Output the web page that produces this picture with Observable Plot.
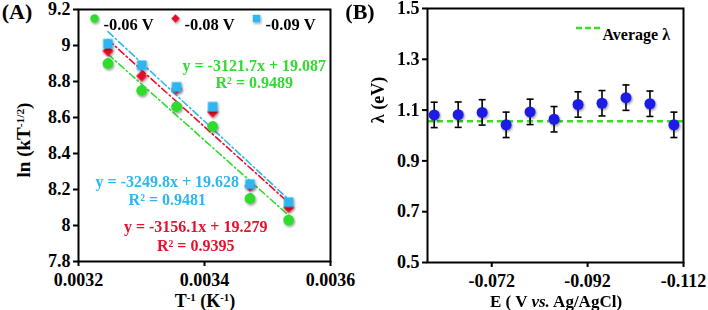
<!DOCTYPE html>
<html><head><meta charset="utf-8">
<script src="https://cdn.jsdelivr.net/npm/d3@7"></script>
<script src="https://cdn.jsdelivr.net/npm/@observablehq/plot@0.6"></script>
<style>
body{margin:0;background:#fff;}
#wrap{display:flex;width:708px;height:310px;overflow:hidden;background:#fff;}
svg{overflow:visible;}
</style></head><body><div id="wrap"></div>
<script>
// ---- Panel A data ----
const invT = [1/308, 1/303, 1/298, 1/293, 1/288, 1/283];
const seriesNames = ["-0.06 V", "-0.08 V", "-0.09 V"];
const lnGreen = [8.90, 8.75, 8.66, 8.55, 8.15, 8.03];
const lnRed   = [8.97, 8.83, 8.76, 8.63, 8.22, 8.10];
const lnBlue  = [9.01, 8.89, 8.77, 8.66, 8.23, 8.13];
const fitSlopes = [-3121.7, -3156.1, -3249.8];
const fitIntercepts = [19.087, 19.279, 19.628];
const fitR2 = [0.9489, 0.9395, 0.9481];
const xTicksA = [0.0032, 0.0034, 0.0036];
const yTicksA = [7.8, 8, 8.2, 8.4, 8.6, 8.8, 9, 9.2];
// equation label anchors (data units)
const eqX = [0.003479, 0.003386, 0.003341];
const eqY = [8.889, 7.994, 8.244];
const r2Y = [8.794, 7.889, 8.144];

// ---- Panel B data ----
const E = [-0.060, -0.065, -0.070, -0.075, -0.080, -0.085, -0.090, -0.095, -0.100, -0.105, -0.110];
const lambda = [1.081, 1.082, 1.091, 1.042, 1.093, 1.064, 1.122, 1.127, 1.149, 1.125, 1.042];
const lambdaErr = [0.05, 0.05, 0.05, 0.05, 0.05, 0.05, 0.05, 0.05, 0.05, 0.05, 0.05];
const avgLambda = 1.056;
const xTicksB = [-0.072, -0.092, -0.112];
const yTicksB = [0.5, 0.7, 0.9, 1.1, 1.3, 1.5];

const colorsA = ["#2fdc2f", "#e8102c", "#2fb6f0"];
const symbolsA = ["circle", "diamond2", "square"];
const seriesA = [lnGreen, lnRed, lnBlue];
const FONT = "'Liberation Serif','Times New Roman',serif";

const ptsA = seriesA.flatMap((vals, i) => vals.map((v, j) => ({x: invT[j], y: v, s: i})));
const fitLines = fitSlopes.flatMap((m, i) => [invT[0], invT[invT.length - 1]].map(x => ({x, y: m * x + fitIntercepts[i], s: i})));
const eqs = fitSlopes.map((m, i) => ({
  x: eqX[i], y: eqY[i], y2: r2Y[i], s: i,
  eq: `y = ${m}x + ${fitIntercepts[i]}`, r2: `R² = ${fitR2[i]}`
}));

const baseStyle = {fontFamily: FONT, fontWeight: "bold", fontSize: "18px", color: "black", background: "transparent"};

const plotA = Plot.plot({
  width: 340, height: 310, marginLeft: 78, marginRight: 10, marginTop: 9, marginBottom: 49,
  style: baseStyle,
  x: {domain: [0.0032, 0.0036]},
  y: {domain: [7.8, 9.2]},
  marks: [
    Plot.axisX({ticks: xTicksA, tickSize: 5, tickPadding: 7, tickFormat: d => d.toFixed(4), label: null, strokeWidth: 2}),
    Plot.axisY({ticks: yTicksA, tickSize: 5, tickPadding: 3, tickFormat: d => String(+d.toFixed(1)), label: null, strokeWidth: 2}),
    ...[0, 1, 2].map(i => Plot.line(fitLines.filter(d => d.s === i), {
      x: "x", y: "y", stroke: colorsA[i], strokeWidth: 1.6, strokeDasharray: "7,3,1.5,3"
    })),
    ...[0, 1, 2].map(i => Plot.dot(ptsA.filter(d => d.s === i), {
      x: "x", y: "y", symbol: symbolsA[i], fill: colorsA[i], r: i === 1 ? 5 : 5.4
    })),
    Plot.text(eqs, {x: "x", y: "y", text: "eq", fill: d => colorsA[d.s], fontSize: 16}),
    Plot.text(eqs, {x: "x", y: "y2", text: "r2", fill: d => colorsA[d.s], fontSize: 16}),
    // legend
    ...[0, 1, 2].map(i => Plot.dot([seriesNames[i]], {
      frameAnchor: "top-left", dx: 16 + 81 * i, dy: 9, symbol: symbolsA[i], fill: colorsA[i], r: i === 1 ? 3.8 : 4.2
    })),
    ...[0, 1, 2].map(i => Plot.text([seriesNames[i]], {
      frameAnchor: "top-left", dx: 25 + 81 * i, dy: 9, text: d => d, textAnchor: "start", fontSize: 16.5
    })),
    Plot.frame({stroke: "black", strokeWidth: 2})
  ]
});

const ptsB = E.map((e, i) => ({e, l: lambda[i], err: lambdaErr[i]}));
const capSymbol = {draw(ctx, size) { const h = Math.sqrt(size / Math.PI); ctx.moveTo(-h, 0); ctx.lineTo(h, 0); }};

const plotB = Plot.plot({
  width: 368, height: 310, marginLeft: 87, marginRight: 25, marginTop: 8, marginBottom: 48,
  style: baseStyle,
  x: {domain: [-0.0586, -0.112]},
  y: {domain: [0.5, 1.5]},
  marks: [
    Plot.axisX({ticks: xTicksB, tickSize: 5, tickPadding: 7, tickFormat: d => d.toFixed(3), label: null, strokeWidth: 2}),
    Plot.axisY({ticks: yTicksB, tickSize: 5, tickPadding: 3, tickFormat: d => d.toFixed(1), label: null, strokeWidth: 2}),
    Plot.ruleY([avgLambda], {stroke: "#3ade22", strokeWidth: 2.5, strokeDasharray: "6,4"}),
    Plot.ruleX(ptsB, {x: "e", y1: d => d.l - d.err, y2: d => d.l + d.err, stroke: "black", strokeWidth: 1.6}),
    Plot.dot(ptsB.flatMap(d => [{e: d.e, v: d.l - d.err}, {e: d.e, v: d.l + d.err}]), {
      x: "e", y: "v", symbol: capSymbol, r: 3.5, stroke: "black", strokeWidth: 1.6
    }),
    Plot.dot(ptsB, {x: "e", y: "l", r: 5.5, fill: "#1a1ae6"}),
    Plot.text(["Average λ"], {frameAnchor: "top-left", dx: 175, dy: 20, text: d => d, textAnchor: "start", fontSize: 16}),
    Plot.frame({stroke: "black", strokeWidth: 2})
  ]
});

const wrap = document.getElementById("wrap");
wrap.append(plotA, plotB);

// drop shadow for markers
for (const svg of [plotA, plotB]) {
  const s = d3.select(svg);
  s.insert("defs", ":first-child").html('<filter id="sh" x="-50%" y="-50%" width="200%" height="200%"><feDropShadow dx="1" dy="1.5" stdDeviation="1" flood-color="#000" flood-opacity="0.4"/></filter>');
}
d3.select(plotA).selectAll("g[aria-label=dot]").attr("filter", "url(#sh)");
d3.select(plotB).selectAll("g[aria-label=dot]").filter((d, i, n) => i === 1).attr("filter", "url(#sh)");

function addText(svg, x, y, rot, size, parts) {
  const t = d3.select(svg).append("text")
    .attr("transform", `translate(${x},${y}) rotate(${rot})`)
    .attr("text-anchor", "middle")
    .style("font-family", FONT).style("font-weight", "bold").style("font-size", size + "px").attr("fill", "black");
  for (const p of parts) {
    const ts = t.append("tspan").text(p.t);
    if (p.sup) ts.attr("dy", -size * 0.32).style("font-size", (size * 0.6) + "px");
    if (p.after) ts.attr("dy", size * 0.32);
    if (p.italic) ts.style("font-style", "italic");
  }
}
// panel letters
addText(plotA, 17, 19, 0, 22, [{t: "(A)"}]);
addText(plotB, 20, 19, 0, 22, [{t: "(B)"}]);
// axis labels
addText(plotA, 30, 140, -90, 19, [{t: "ln (kT"}, {t: "-1/2", sup: true}, {t: ")", after: true}]);
addText(plotA, 205, 307, 0, 18, [{t: "T"}, {t: "-1", sup: true}, {t: " (K", after: true}, {t: "-1", sup: true}, {t: ")", after: true}]);
addText(plotB, 44, 100, -90, 18, [{t: "λ (eV)"}]);
addText(plotB, 216, 307, 0, 17, [{t: "E ( V "}, {t: "vs.", italic: true}, {t: " Ag/AgCl)"}]);
// legend dash in B
d3.select(plotB).append("line")
  .attr("x1", 236).attr("x2", 260).attr("y1", 28).attr("y2", 28)
  .attr("stroke", "#3ade22").attr("stroke-width", 2.5).attr("stroke-dasharray", "6,3");
</script>
</body></html>
